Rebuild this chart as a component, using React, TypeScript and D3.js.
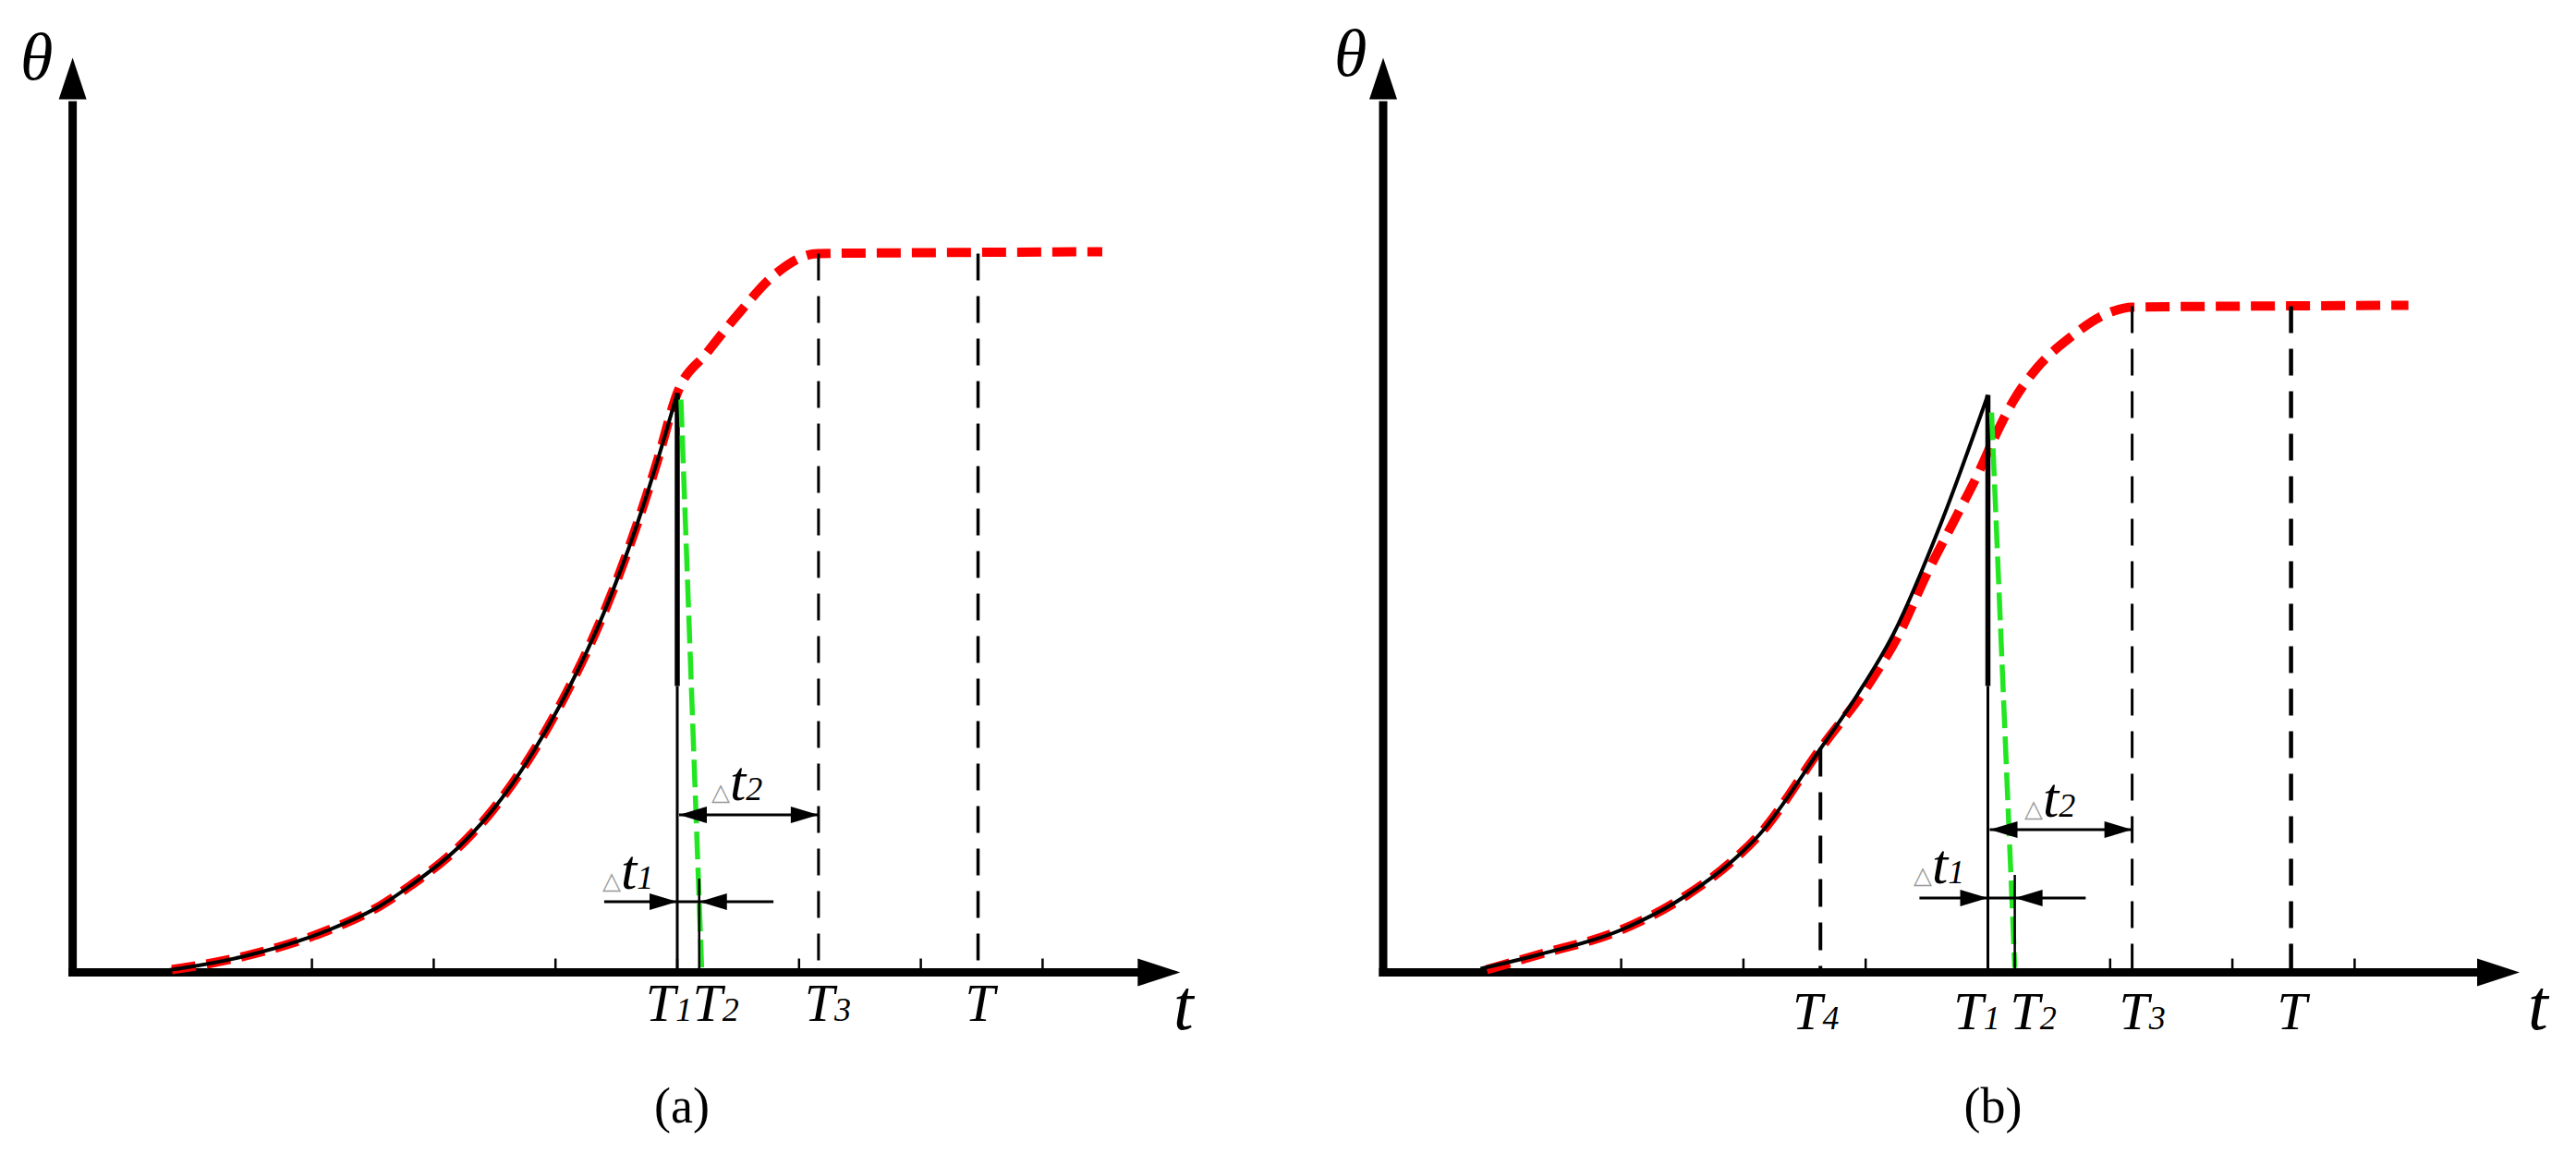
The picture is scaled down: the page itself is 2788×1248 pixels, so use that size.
import React from "react";
import * as d3 from "d3";

const W = 2788;
const H = 1248;

// ---------- data (t in tick units, theta in % of plot height) ----------
const tickUnits = [2, 3, 4, 5, 6, 7, 8];

// panel (a)
const aSolidT = [0.8, 1.0, 1.46, 2.14, 2.56, 2.81, 3.2, 3.48, 3.8, 4.1, 4.4, 4.67, 4.84, 5.0];
const aSolidTheta = [0.2, 0.6, 1.8, 4.6, 7.2, 9.4, 13.5, 17.5, 23.5, 30.5, 39.0, 48.5, 55.5, 62.7];
const aRedT = [0.85, 1.0, 1.46, 2.14, 2.56, 2.81, 3.2, 3.48, 3.8, 4.1, 4.4, 4.67, 4.84, 5.0, 5.24, 5.51, 5.78, 6.15, 7.0, 8.49];
const aRedTheta = [0.3, 0.6, 1.8, 4.6, 7.2, 9.4, 13.5, 17.5, 23.5, 30.5, 39.0, 48.5, 55.5, 62.7, 67.0, 71.4, 75.3, 77.8, 77.9, 78.0];
const aGreenT = [5.03, 5.2];
const aGreenTheta = [62, 0.5];
const aMarkerNames = ["T1", "T2", "T3", "T"];
const aMarkerT = [5.0, 5.18, 6.16, 7.47];

// panel (b)
const bSolidT = [0.85, 1.32, 2.0, 2.53, 2.93, 3.13, 3.63, 3.93, 4.23, 4.61, 5.0];
const bSolidTheta = [0.4, 1.9, 4.6, 8.3, 12.3, 14.9, 24.2, 30, 36.7, 48.4, 62.5];
const bRedT = [0.9, 1.32, 2.0, 2.53, 2.93, 3.13, 3.63, 4.03, 4.26, 4.51, 4.74, 4.91, 5.04, 5.21, 5.4, 5.68, 6.01, 6.18, 7.0, 8.44];
const bRedTheta = [0.3, 1.9, 4.6, 8.3, 12.3, 14.9, 24.2, 31.3, 36.3, 43.4, 49.3, 53.7, 57.5, 61.9, 65.4, 68.8, 71.5, 72.0, 72.1, 72.2];
const bGreenT = [5.03, 5.22];
const bGreenTheta = [60.6, 0.5];
const bMarkerNames = ["T4", "T1", "T2", "T3", "T"];
const bMarkerT = [3.63, 5.0, 5.22, 6.18, 7.48];

const yScale = d3.scaleLinear().domain([0, 100]).range([1052.5, 52.5]);

const FONT = "'Liberation Serif', 'Times New Roman', serif";

type Cfg = {
  x: d3.ScaleLinear<number, number>;
  yAxisT: number;
  tipT: number;
  solidT: number[];
  solidTheta: number[];
  redT: number[];
  redTheta: number[];
  greenT: number[];
  greenTheta: number[];
  names: string[];
  ts: number[];
  t4?: number;
  t4Theta?: number;
  plateau: number;
  peak: number;
  dt1Theta: number;
  dt2Theta: number;
  dt1Range: [number, number];
  labelDx: Record<string, number>;
  labelY: number;
  dt1Label: [number, number];
  dt2Label: [number, number];
  thetaPos: [number, number];
  tPos: [number, number];
  caption: string;
  captionX: number;
  tWidth: number;
};

function zip(a: number[], b: number[]): [number, number][] {
  return a.map((v, i) => [v, b[i]]);
}

function Panel({ c }: { c: Cfg }) {
  const { x } = c;
  const y0 = yScale(0);
  const ax = x(c.yAxisT);
  const line = d3
    .line<[number, number]>()
    .x((d) => x(d[0]))
    .y((d) => yScale(d[1]))
    .curve(d3.curveMonotoneX);
  const straight = d3
    .line<[number, number]>()
    .x((d) => x(d[0]))
    .y((d) => yScale(d[1]));
  const xTip = x(c.tipT);
  const yTip = yScale(99);
  const tT1 = c.ts[c.names.indexOf("T1")];
  const tT2 = c.ts[c.names.indexOf("T2")];
  const tT3 = c.ts[c.names.indexOf("T3")];
  const tT = c.ts[c.names.indexOf("T")];
  const xT1 = x(tT1);
  const xT2 = x(tT2);
  const xT3 = x(tT3);
  const yd1 = yScale(c.dt1Theta);
  const yd2 = yScale(c.dt2Theta);
  const AL = 30;
  const AW = 9;
  const headRight = (tx: number, ty: number) => `${tx},${ty} ${tx - AL},${ty - AW} ${tx - AL},${ty + AW}`;
  const headLeft = (tx: number, ty: number) => `${tx},${ty} ${tx + AL},${ty - AW} ${tx + AL},${ty + AW}`;

  const label = (name: string, t: number) => {
    const base = name.slice(0, 1);
    const sub = name.slice(1);
    return (
      <text
        key={name}
        x={x(t) + (c.labelDx[name] || 0)}
        y={c.labelY}
        textAnchor="middle"
        fontFamily={FONT}
        fontStyle="italic"
        fontSize={58}
        fill="#000"
      >
        {base}
        {sub && <tspan fontSize={36}>{sub}</tspan>}
      </text>
    );
  };

  const deltaLabel = (pos: [number, number], n: string) => (
    <text x={pos[0]} y={pos[1]} fontFamily={FONT} fill="#000">
      <tspan fontFamily="'DejaVu Sans', sans-serif" fontSize={26} fill="#9a9a9a">△</tspan>
      <tspan fontStyle="italic" fontSize={62}>t</tspan>
      <tspan fontStyle="italic" fontSize={36}>{n}</tspan>
    </text>
  );

  return (
    <g>
      {/* axes */}
      <line x1={ax} y1={y0 + 4.5} x2={ax} y2={yScale(94.3)} stroke="#000" strokeWidth={9} />
      <polygon points={`${ax},${yTip} ${ax - 15},${yScale(94.5)} ${ax + 15},${yScale(94.5)}`} fill="#000" />
      <line x1={ax - 4.5} y1={y0} x2={xTip - 44} y2={y0} stroke="#000" strokeWidth={9} />
      <polygon points={`${xTip},${y0} ${xTip - 46},${y0 - 15} ${xTip - 46},${y0 + 15}`} fill="#000" />
      {tickUnits.map((t) => (
        <line key={t} x1={x(t)} y1={y0} x2={x(t)} y2={y0 - 15} stroke="#000" strokeWidth={2.5} />
      ))}

      {/* red dashed curve */}
      <path d={line(zip(c.redT, c.redTheta)) || ""} fill="none" stroke="#ff0000" strokeWidth={10} strokeDasharray="26 12" />
      {/* black solid curve */}
      <path d={line(zip(c.solidT, c.solidTheta)) || ""} fill="none" stroke="#000" strokeWidth={4} />

      {/* T1 vertical */}
      <line x1={xT1} y1={yScale(c.peak)} x2={xT1} y2={yScale(31)} stroke="#000" strokeWidth={5.5} />
      <line x1={xT1} y1={yScale(31)} x2={xT1} y2={y0} stroke="#000" strokeWidth={3} />

      {/* dashed verticals */}
      {c.t4 !== undefined && (
        <line x1={x(c.t4)} y1={yScale(c.t4Theta || 0)} x2={x(c.t4)} y2={y0} stroke="#000" strokeWidth={4} strokeDasharray="30 17" />
      )}
      <line x1={xT3} y1={yScale(c.plateau)} x2={xT3} y2={y0} stroke="#000" strokeWidth={3} strokeDasharray="29 17" />
      <line x1={x(tT)} y1={yScale(c.plateau)} x2={x(tT)} y2={y0} stroke="#000" strokeWidth={c.tWidth} strokeDasharray="29 17" />

      {/* green dashed */}
      <path d={straight(zip(c.greenT, c.greenTheta)) || ""} fill="none" stroke="#22e622" strokeWidth={5.5} strokeDasharray="30 9" />

      {/* T2 short line */}
      <line x1={xT2} y1={yd1 - 25} x2={xT2} y2={y0} stroke="#000" strokeWidth={2.5} />

      {/* delta t1 arrows */}
      <line x1={x(c.dt1Range[0])} y1={yd1} x2={x(c.dt1Range[1])} y2={yd1} stroke="#000" strokeWidth={3} />
      <polygon points={headRight(xT1, yd1)} fill="#000" />
      <polygon points={headLeft(xT2, yd1)} fill="#000" />
      {deltaLabel(c.dt1Label, "1")}

      {/* delta t2 arrows */}
      <line x1={xT1 + 2} y1={yd2} x2={xT3} y2={yd2} stroke="#000" strokeWidth={3} />
      <polygon points={headLeft(xT1 + 2, yd2)} fill="#000" />
      <polygon points={headRight(xT3, yd2)} fill="#000" />
      {deltaLabel(c.dt2Label, "2")}

      {/* marker labels */}
      {c.names.map((n, i) => label(n, c.ts[i]))}

      {/* axis labels */}
      <text x={c.thetaPos[0]} y={c.thetaPos[1]} fontFamily={FONT} fontStyle="italic" fontSize={72} fill="#000">θ</text>
      <text x={c.tPos[0]} y={c.tPos[1]} fontFamily={FONT} fontStyle="italic" fontSize={78} fill="#000">t</text>
      <text x={c.captionX} y={1215} textAnchor="middle" fontFamily={FONT} fontSize={54} fill="#000">{c.caption}</text>
    </g>
  );
}

const xA = d3.scaleLinear().domain([0, 10]).range([74, 1392]);
const xB = d3.scaleLinear().domain([0, 10]).range([1490, 2813]);

const cfgA: Cfg = {
  x: xA,
  yAxisT: 0.035,
  tipT: 9.13,
  solidT: aSolidT,
  solidTheta: aSolidTheta,
  redT: aRedT,
  redTheta: aRedTheta,
  greenT: aGreenT,
  greenTheta: aGreenTheta,
  names: aMarkerNames,
  ts: aMarkerT,
  plateau: 77.8,
  peak: 62.7,
  dt1Theta: 7.65,
  dt2Theta: 17.05,
  dt1Range: [4.4, 5.79],
  labelDx: { T1: -9, T2: 18, T3: 10, T: 2 },
  labelY: 1105,
  dt1Label: [652, 962],
  dt2Label: [770, 866],
  thetaPos: [22, 86],
  tPos: [1270, 1114],
  caption: "(a)",
  captionX: 738,
  tWidth: 3.5,
};

const cfgB: Cfg = {
  x: xB,
  yAxisT: 0.053,
  tipT: 9.35,
  solidT: bSolidT,
  solidTheta: bSolidTheta,
  redT: bRedT,
  redTheta: bRedTheta,
  greenT: bGreenT,
  greenTheta: bGreenTheta,
  names: bMarkerNames,
  ts: bMarkerT,
  t4: 3.63,
  t4Theta: 24.2,
  plateau: 72.1,
  peak: 62.5,
  dt1Theta: 8.05,
  dt2Theta: 15.45,
  dt1Range: [4.44, 5.8],
  labelDx: { T4: -5, T1: -12, T2: 20, T3: 11, T: 1 },
  labelY: 1114,
  dt1Label: [2071, 956],
  dt2Label: [2191, 884],
  thetaPos: [1444, 82],
  tPos: [2736, 1114],
  caption: "(b)",
  captionX: 2157,
  tWidth: 4.5,
};

export default function App() {
  return (
    <svg
      width={W}
      height={H}
      viewBox={`0 0 ${W} ${H}`}
      style={{ position: "absolute", left: 0, top: 0, background: "#fff" }}
    >
      <rect x={0} y={0} width={W} height={H} fill="#fff" />
      <Panel c={cfgA} />
      <Panel c={cfgB} />
    </svg>
  );
}
